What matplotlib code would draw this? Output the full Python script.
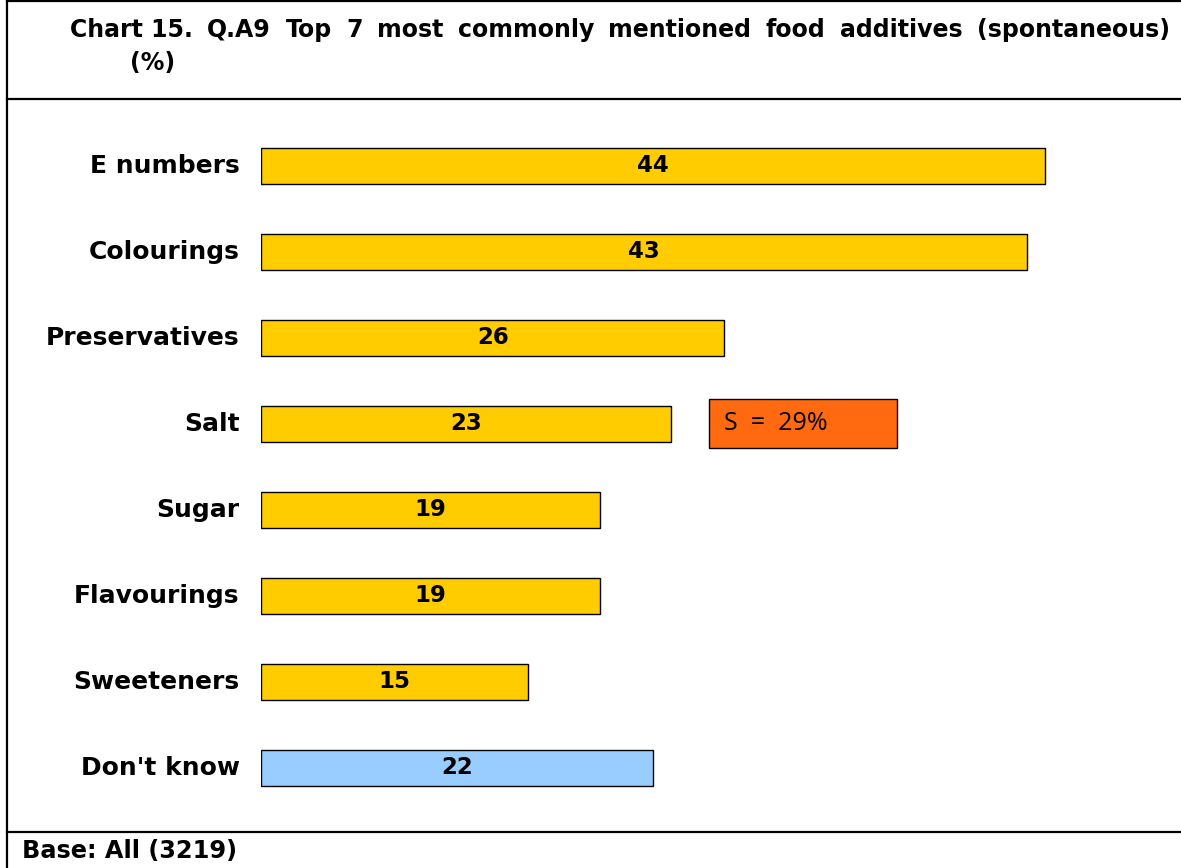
import matplotlib
matplotlib.use("Agg")
import matplotlib.pyplot as plt
from matplotlib.lines import Line2D
from matplotlib.patches import Rectangle

categories = ["E numbers", "Colourings", "Preservatives", "Salt", "Sugar",
              "Flavourings", "Sweeteners", "Don't know"]
values = [44, 43, 26, 23, 19, 19, 15, 22]
bar_colors = ["#FFCC00"] * 7 + ["#99CCFF"]

title_words = ["Chart 15.", "Q.A9", "Top", "7", "most", "commonly", "mentioned",
               "food", "additives", "(spontaneous)"]
title_line2 = "(%)"
note_text = "S  =  29%"
base_text = "Base: All (3219)"

W, H = 1181, 868
fig = plt.figure(figsize=(W / 100, H / 100), dpi=100)

# plot area: x=0 sits at 261px, 17.82px per percentage point
px_per_unit = 17.82
ax = fig.add_axes([261 / W, 1 - 811 / H, (W - 261) / W, 688 / H])
ax.set_xlim(0, (W - 261) / px_per_unit)
ax.set_ylim(len(categories) - 0.5, -0.5)
ax.axis("off")

ypos = list(range(len(categories)))
ax.barh(ypos, values, height=0.41, color=bar_colors, edgecolor="black", linewidth=1.0)

for y, v, name in zip(ypos, values, categories):
    ax.text(v / 2, y, str(v), ha="center", va="center",
            fontsize=16.5, fontweight="bold", color="black")
    ax.text(-1.2, y, name, ha="right", va="center",
            fontsize=18, fontweight="bold", color="black")

# side note next to the Salt bar
salt = categories.index("Salt")
x0 = (709 - 261) / px_per_unit
x1 = (897 - 261) / px_per_unit
ax.add_patch(Rectangle((x0, salt - 0.29), x1 - x0, 0.57, facecolor="#FF6A10",
                       edgecolor="black", linewidth=1.0, clip_on=False))
ax.text(x0 + 15 / px_per_unit, salt, note_text, ha="left", va="center",
        fontsize=18, color="black", family="Open Sans")

# frame lines
lw = 1.6
fig.add_artist(Line2D([7 / W, 7 / W], [0, 1], color="black", lw=lw))
fig.add_artist(Line2D([7 / W, 1], [1 - 1 / H, 1 - 1 / H], color="black", lw=lw))
fig.add_artist(Line2D([7 / W, 1], [1 - 99 / H, 1 - 99 / H], color="black", lw=lw))
fig.add_artist(Line2D([7 / W, 1], [1 - 832 / H, 1 - 832 / H], color="black", lw=lw))

# justified first title line: spread words between 70px and 1170px
renderer = fig.canvas.get_renderer()
words = [fig.text(0, 1 - 30 / H, w, ha="left", va="center", fontsize=17,
                  fontweight="bold") for w in title_words]
widths = [t.get_window_extent(renderer).width for t in words]
gap = (1170 - 70 - sum(widths)) / (len(words) - 1)
xpx = 70
for t, w in zip(words, widths):
    t.set_x(xpx / W)
    xpx += w + gap

fig.text(130 / W, 1 - 63 / H, title_line2, ha="left", va="center",
         fontsize=17, fontweight="bold")
fig.text(22 / W, 1 - 851 / H, base_text, ha="left", va="center",
         fontsize=17.3, fontweight="bold")

fig.savefig("out.png", dpi=100)
